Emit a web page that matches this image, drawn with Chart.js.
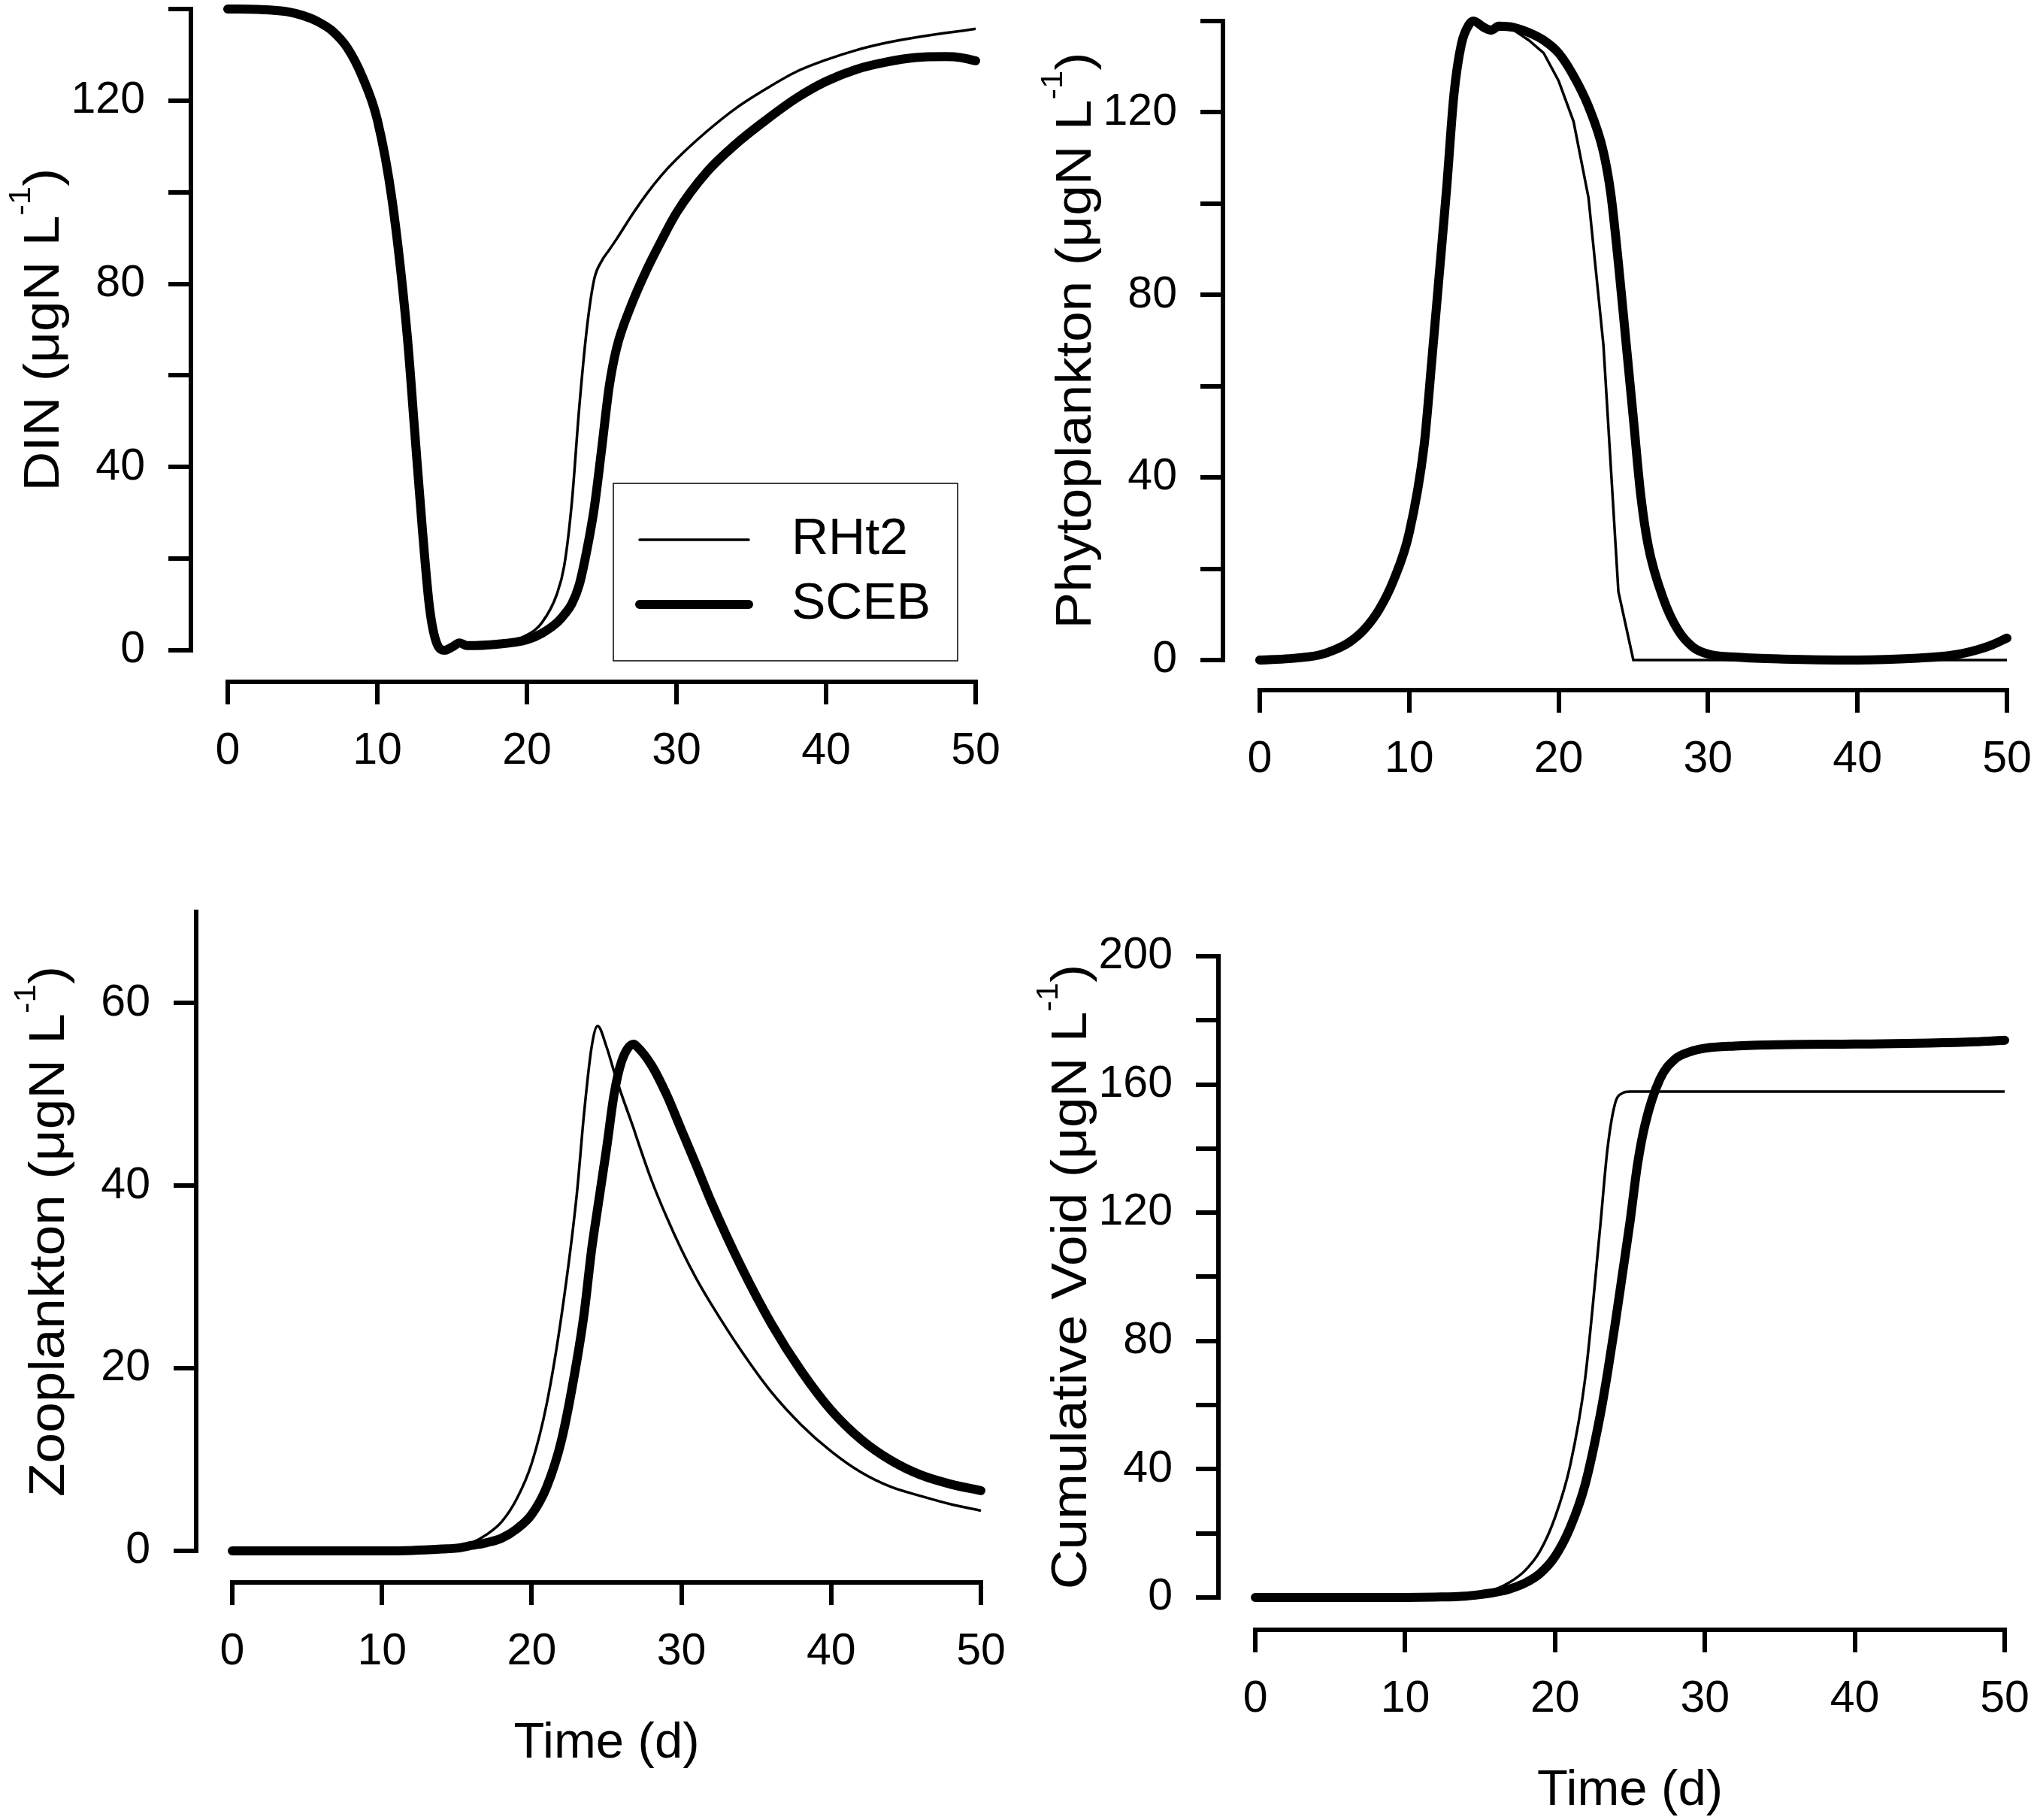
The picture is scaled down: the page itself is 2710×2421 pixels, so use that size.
<!DOCTYPE html>
<html>
<head>
<meta charset="utf-8">
<script src="https://cdn.jsdelivr.net/npm/chart.js@4.4.1/dist/chart.umd.min.js"></script>
<style>
  html, body { margin: 0; padding: 0; background: #fff; }
  #page { position: relative; width: 2710px; height: 2421px; background: #fff; overflow: hidden; }
  canvas { position: absolute; }
</style>
</head>
<body>
<div id="page">
  <canvas id="dinChart"  width="1355" height="1190" style="left:0;top:0"></canvas>
  <canvas id="phyChart"  width="1355" height="1190" style="left:1355px;top:0"></canvas>
  <canvas id="zooChart"  width="1355" height="1231" style="left:0;top:1190px"></canvas>
  <canvas id="voidChart" width="1355" height="1231" style="left:1355px;top:1190px"></canvas>
</div>
<script>
/* ------------------------------------------------------------
   DATA
------------------------------------------------------------- */
const seriesNames = ["RHt2", "SCEB"];
const xTicks = [0, 10, 20, 30, 40, 50];

// DIN
const tDin = [0, 2, 4, 5, 6, 7, 8, 9, 10, 11, 12, 12.5, 13, 13.5, 14, 14.5, 15, 15.5, 16, 18,
  20, 21, 22, 22.5, 23, 23.5, 24, 24.5, 25, 25.5, 26, 27, 28, 29, 30, 32, 34, 36, 38, 40,
  42, 44, 46, 48, 49, 50];
const dinSCEB = [140, 139.9, 139.4, 138.6, 137.3, 135.2, 131.5, 125.2, 115.8, 98, 68.7, 47.8, 26.9, 9.1, 1.3, 0, 0.7, 1.6, 1.0, 1.3,
  2.3, 3.7, 6, 7.8, 10.1, 14.3, 21.7, 31, 44, 57.5, 66, 75.5, 83, 89.5, 95.5, 104.3, 110.6, 115.8, 120.5, 124.2,
  126.8, 128.4, 129.4, 129.6, 129.4, 128.7];
const dinRHt2 = [140, 139.9, 139.4, 138.6, 137.3, 135.2, 131.5, 125.2, 115.8, 98, 68.7, 47.8, 26.9, 9.1, 1.3, 0, 0.7, 1.6, 1.0, 1.4,
  3.3, 6, 12.2, 18.5, 32.1, 53, 70, 81, 85, 87.4, 89.8, 94.9, 99.6, 103.7, 107.2, 113.2, 118.4, 122.6, 126.3, 128.9,
  131, 132.6, 133.8, 134.8, 135.2, 135.7];

// Phytoplankton
const tPhy = [0, 2, 4, 5, 6, 7, 8, 9, 10, 11, 11.5, 12, 12.5, 13, 13.5, 14, 14.3, 15, 15.5, 16,
  17, 18, 19, 20, 21, 22, 23, 23.5, 24, 24.5, 25, 25.5, 26, 27, 28, 29, 30, 32, 35, 40,
  44, 46, 47, 48, 49, 50];
const phySCEB = [0, 0.3, 1.1, 2.2, 3.9, 6.7, 11.1, 17.8, 27.8, 47, 65, 84, 103, 124, 135, 139.2, 140, 138.6, 138, 138.9,
  138.6, 137.5, 135.8, 133, 128, 121.3, 111.3, 102, 87, 70, 53, 36, 25, 13.5, 6.5, 2.8, 1.3, 0.6, 0.2, 0,
  0.4, 0.9, 1.4, 2.2, 3.3, 4.8];
const phyRHt2 = [0, 0.3, 1.1, 2.2, 3.9, 6.7, 11.1, 17.8, 27.8, 47, 65, 84, 103, 124, 135, 139.2, 140, 138.6, 138, 138.9,
  138, 135.8, 133, 126.9, 118, 101.3, 69, 42, 15, 7.5, 0, 0, 0, 0, 0, 0, 0, 0, 0, 0,
  0, 0, 0, 0, 0, 0];

// Zooplankton
const tZoo = [0, 5, 10, 12, 14, 15, 16, 17, 18, 19, 20, 21, 22, 23, 23.5, 24, 24.4, 25, 25.5, 26,
  26.8, 27, 28, 29, 30, 31, 32, 34, 36, 38, 40, 42, 44, 46, 48, 50];
const zooSCEB = [0, 0, 0, 0.05, 0.2, 0.3, 0.6, 0.9, 1.4, 2.4, 4, 7, 12.2, 20.7, 26, 33, 37.5, 44.1, 50, 53.6,
  55.5, 55.3, 53.2, 50, 46.1, 42.2, 38.2, 31.1, 24.9, 19.7, 15.4, 12.2, 9.9, 8.3, 7.3, 6.6];
const zooRHt2 = [0, 0, 0, 0.05, 0.25, 0.5, 0.9, 1.8, 3.2, 5.7, 9.6, 16.1, 25.9, 38.9, 48, 55.2, 57.5, 55.2, 52.5, 50,
  46.3, 45.3, 40.6, 36.6, 33, 29.8, 27, 21.9, 17.4, 13.8, 10.9, 8.6, 7, 6, 5.1, 4.4];

// Cumulative void
const tVoid = [0, 5, 10, 12, 14, 15, 16, 17, 18, 19, 20, 21, 22, 23, 23.5, 24, 24.5, 25, 25.5, 26,
  27, 28, 29, 30, 32, 35, 40, 45, 48, 50];
const voidSCEB = [0, 0, 0, 0.1, 0.4, 0.9, 1.6, 2.7, 4.5, 7.5, 12.8, 21.7, 35.1, 56.5, 70, 85, 101, 117.1, 135, 147.4,
  161.7, 167.9, 170.2, 171.3, 172, 172.4, 172.6, 172.9, 173.3, 173.8];
const voidRHt2 = [0, 0, 0, 0.1, 0.5, 1.2, 2.5, 4.8, 8.4, 14.5, 25, 41, 68, 115, 140, 154, 157.3, 157.8, 157.8, 157.8,
  157.8, 157.8, 157.8, 157.8, 157.8, 157.8, 157.8, 157.8, 157.8, 157.8];


/* ------------------------------------------------------------
   STYLE
------------------------------------------------------------- */
const FONT = "'Liberation Sans', Arial, Helvetica, sans-serif";
const TICK_SIZE = 59;
const TITLE_SIZE = 67;
const TITLE_STRETCH = 1.09;
const SUP_SIZE = 40;
const SUP_RAISE = 38;
const LEGEND_SIZE = 68;

Chart.defaults.font.family = FONT;
Chart.defaults.color = "#000";

const toPoints = (t, v) => t.map((x, i) => ({ x, y: v[i] }));


/* ------------------------------------------------------------
   Detached axes, axis titles and legend
------------------------------------------------------------- */
function drawYTitle(ctx, parts, x, yc) {
    const big = `${TITLE_SIZE}px ${FONT}`;
    const small = `${SUP_SIZE}px ${FONT}`;
    ctx.save();
    ctx.translate(x, yc);
    ctx.rotate(-Math.PI / 2);
    ctx.scale(TITLE_STRETCH, 1);
    ctx.font = big;
    const w1 = ctx.measureText(parts[0]).width;
    const w3 = ctx.measureText(parts[2]).width;
    ctx.font = small;
    const w2 = ctx.measureText(parts[1]).width;
    let cx = -(w1 + w2 + w3) / 2;
    ctx.textAlign = "left";
    ctx.textBaseline = "alphabetic";
    ctx.fillStyle = "#000";
    ctx.font = big;
    ctx.fillText(parts[0], cx, 0);
    cx += w1;
    ctx.font = small;
    ctx.fillText(parts[1], cx, -SUP_RAISE);
    cx += w2;
    ctx.font = big;
    ctx.fillText(parts[2], cx, 0);
    ctx.restore();
}

const axesPlugin = {
    id: "detachedAxes",
    afterDraw(chart, args, opts) {
        const { ctx, chartArea } = chart;
        const xs = chart.scales.x, ys = chart.scales.y;
        const y0 = ys.getPixelForValue(0), yTop = ys.getPixelForValue(ys.max);
        const x0 = xs.getPixelForValue(0), x1 = xs.getPixelForValue(xs.max);

        ctx.save();
        ctx.strokeStyle = "#000";
        ctx.lineWidth = 6;
        ctx.lineCap = "square";
        ctx.beginPath();
        ctx.moveTo(chartArea.left, y0);
        ctx.lineTo(chartArea.left, yTop);
        ctx.stroke();
        ctx.beginPath();
        ctx.moveTo(x0, chartArea.bottom);
        ctx.lineTo(x1, chartArea.bottom);
        ctx.stroke();

        // y title, centred on the drawn axis line
        drawYTitle(ctx, opts.yTitle, chartArea.left - 176, (y0 + yTop) / 2);

        // x title
        if (opts.xTitle) {
            ctx.font = `${TITLE_SIZE}px ${FONT}`;
            ctx.fillStyle = "#000";
            ctx.textAlign = "center";
            ctx.textBaseline = "alphabetic";
            ctx.fillText(opts.xTitle, (x0 + x1) / 2, chartArea.bottom + 233);
        }

        // legend box
        if (opts.legend) {
            const bx = chartArea.right - 482, by = chartArea.bottom - 264;
            ctx.lineWidth = 1.5;
            ctx.lineCap = "butt";
            ctx.strokeRect(bx, by, 458, 236);
            ctx.font = `${LEGEND_SIZE}px ${FONT}`;
            ctx.textAlign = "left";
            ctx.textBaseline = "middle";
            chart.data.datasets.forEach((ds, i) => {
                const ly = by + 75 + i * 86;
                ctx.lineWidth = ds.borderWidth;
                ctx.lineCap = "round";
                ctx.beginPath();
                ctx.moveTo(bx + 35, ly);
                ctx.lineTo(bx + 180, ly);
                ctx.stroke();
                ctx.fillText(ds.label, bx + 237, ly);
            });
        }
        ctx.restore();
    }
};


/* ------------------------------------------------------------
   One panel
------------------------------------------------------------- */
function makePanel(cfg) {
    const canvas = document.querySelector(cfg.el);
    const w = canvas.width, h = canvas.height;

    new Chart(canvas, {
        type: "line",
        data: {
            datasets: [
                {
                    label: seriesNames[0],
                    data: toPoints(cfg.t, cfg.thin),
                    borderColor: "#000",
                    borderWidth: 3.5,
                    pointRadius: 0,
                    fill: false,
                    clip: false,
                    cubicInterpolationMode: cfg.thinLinear ? "default" : "monotone",
                    tension: 0
                },
                {
                    label: seriesNames[1],
                    data: toPoints(cfg.t, cfg.thick),
                    borderColor: "#000",
                    borderWidth: 12,
                    borderCapStyle: "round",
                    borderJoinStyle: "round",
                    pointRadius: 0,
                    fill: false,
                    clip: false,
                    cubicInterpolationMode: "monotone"
                }
            ]
        },
        options: {
            responsive: false,
            animation: false,
            events: [],
            layout: { padding: { left: 0, top: cfg.top, right: w - cfg.right, bottom: 0 } },
            plugins: {
                legend: { display: false },
                tooltip: { enabled: false },
                detachedAxes: { yTitle: cfg.yTitle, xTitle: cfg.xTitle, legend: cfg.legend }
            },
            scales: {
                x: {
                    type: "linear",
                    min: cfg.xMin,
                    max: 50,
                    border: { display: false },
                    grid: { drawOnChartArea: false, drawTicks: true, tickLength: 30, lineWidth: 6, color: "#000" },
                    ticks: { font: { size: TICK_SIZE, lineHeight: 1 }, padding: 33, maxRotation: 0, autoSkip: false },
                    afterBuildTicks: s => { s.ticks = xTicks.map(v => ({ value: v })); },
                    afterFit: s => { s.height = h - cfg.bottom; s.paddingLeft = 0; s.paddingRight = 0; }
                },
                y: {
                    type: "linear",
                    min: cfg.yMin,
                    max: cfg.yMax,
                    border: { display: false },
                    grid: { drawOnChartArea: false, drawTicks: true, tickLength: 30, lineWidth: 6, color: "#000" },
                    ticks: {
                        font: { size: TICK_SIZE, lineHeight: 1 },
                        padding: 31,
                        autoSkip: false,
                        callback: v => cfg.yLabels.includes(v) ? String(v) : ""
                    },
                    afterBuildTicks: s => { s.ticks = cfg.yTicks.map(v => ({ value: v })); },
                    afterFit: s => { s.width = cfg.left; s.paddingTop = 0; s.paddingBottom = 0; }
                }
            }
        },
        plugins: [axesPlugin]
    });
}


/* ------------------------------------------------------------
   The four panels
------------------------------------------------------------- */
makePanel({
    el: "#dinChart", t: tDin, thin: dinRHt2, thick: dinSCEB,
    left: 254, right: 1298, top: 12, bottom: 907,
    xMin: -2.46, yMin: -6.9, yMax: 140,
    yTicks: [0, 20, 40, 60, 80, 100, 120, 140], yLabels: [0, 40, 80, 120],
    yTitle: ["DIN (μgN L", "-1", ")"], legend: true
});

makePanel({
    el: "#phyChart", t: tPhy, thin: phyRHt2, thick: phySCEB, thinLinear: true,
    left: 272, right: 1315, top: 28, bottom: 918,
    xMin: -2.46, yMin: -6.6, yMax: 140,
    yTicks: [0, 20, 40, 60, 80, 100, 120, 140], yLabels: [0, 40, 80, 120],
    yTitle: ["Phytoplankton (μgN L", "-1", ")"]
});

makePanel({
    el: "#zooChart", t: tZoo, thin: zooRHt2, thick: zooSCEB,
    left: 261, right: 1305, top: 23, bottom: 915,
    xMin: -2.41, yMin: -3.46, yMax: 70,
    yTicks: [0, 20, 40, 60], yLabels: [0, 20, 40, 60],
    yTitle: ["Zooplankton (μgN L", "-1", ")"], xTitle: "Time (d)"
});

makePanel({
    el: "#voidChart", t: tVoid, thin: voidRHt2, thick: voidSCEB,
    left: 266, right: 1312, top: 82, bottom: 978,
    xMin: -2.46, yMin: -10.1, yMax: 200,
    yTicks: [0, 20, 40, 60, 80, 100, 120, 140, 160, 180, 200], yLabels: [0, 40, 80, 120, 160, 200],
    yTitle: ["Cumulative Void (μgN L", "-1", ")"], xTitle: "Time (d)"
});
</script>
</body>
</html>
